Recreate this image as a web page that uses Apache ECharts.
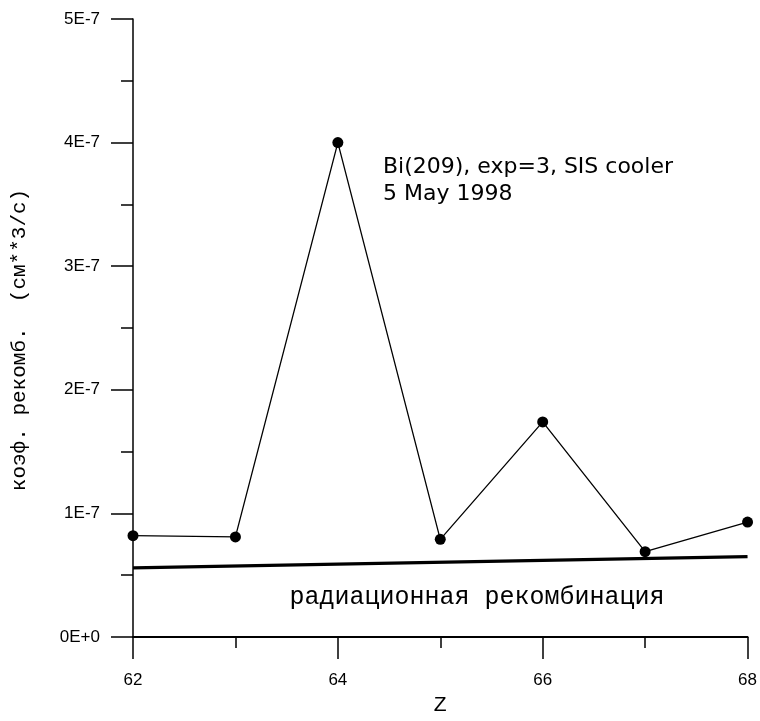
<!DOCTYPE html>
<html>
<head>
<meta charset="utf-8">
<script src="https://cdn.jsdelivr.net/npm/echarts@6/dist/echarts.min.js"></script>
<style>
html,body{margin:0;padding:0;background:#fff;}
#chart{width:760px;height:721px;}
</style>
</head>
<body>
<div id="chart"></div>
<script>
// Data
var zValues = [62, 63, 64, 65, 66, 67, 68];
var recombCoef = [0.82e-7, 0.81e-7, 4.0e-7, 0.79e-7, 1.74e-7, 0.69e-7, 0.93e-7];
var radiativeZ = [62, 68];
var radiativeCoef = [0.56e-7, 0.65e-7];
var yTickLabels = ['0E+0', '1E-7', '2E-7', '3E-7', '4E-7', '5E-7'];
var xTickLabels = ['62', '64', '66', '68'];
var yAxisTitle = 'коэф. рекомб.  (см**3/с)';
var xAxisTitle = 'Z';
var annotationLines = ['Bi(209), exp=3, SIS cooler', '5 May 1998'];
var radiativeLabel = 'радиационная рекомбинация';

var mainData = zValues.map(function (z, i) { return [z, recombCoef[i]]; });
var radData = radiativeZ.map(function (z, i) { return [z, radiativeCoef[i]]; });

var sansFont = '"Liberation Sans", Arial, Helvetica, sans-serif';
var wideSans = '"DejaVu Sans", Verdana, sans-serif';
var monoFont = '"Liberation Mono", "Courier New", monospace';

var chart = echarts.init(document.getElementById('chart'), null, {renderer: 'canvas'});
chart.setOption({
  animation: false,
  backgroundColor: '#ffffff',
  grid: {left: 133, right: 8, top: 19, bottom: 77, containLabel: false},
  xAxis: {
    type: 'value',
    min: 62, max: 68, interval: 2,
    axisLine: {show: true, onZero: false, lineStyle: {color: '#000', width: 2}},
    axisTick: {show: true, length: 22, lineStyle: {color: '#000', width: 1.5}},
    minorTick: {show: true, splitNumber: 2, length: 11, lineStyle: {color: '#000', width: 1.5}},
    splitLine: {show: false},
    minorSplitLine: {show: false},
    axisLabel: {
      margin: 35, color: '#000', fontSize: 17, fontFamily: sansFont,
      formatter: function (v) { return xTickLabels[Math.round((v - 62) / 2)]; }
    },
    name: xAxisTitle, nameLocation: 'middle', nameGap: 58,
    nameTextStyle: {color: '#000', fontSize: 21, fontFamily: sansFont}
  },
  yAxis: {
    type: 'value',
    min: 0, max: 5e-7, interval: 1e-7,
    axisLine: {show: true, onZero: false, lineStyle: {color: '#000', width: 1.5}},
    axisTick: {show: true, length: 22, lineStyle: {color: '#000', width: 1.5}},
    minorTick: {show: true, splitNumber: 2, length: 12, lineStyle: {color: '#000', width: 1.5}},
    splitLine: {show: false},
    minorSplitLine: {show: false},
    axisLabel: {
      margin: 33, color: '#000', fontSize: 17, fontFamily: sansFont,
      formatter: function (v) { return yTickLabels[Math.round(v / 1e-7)]; }
    }
  },
  series: [
    {
      type: 'line',
      data: mainData,
      symbol: 'circle', symbolSize: 11,
      itemStyle: {color: '#000'},
      lineStyle: {color: '#000', width: 1.3},
      clip: false,
      z: 3
    },
    {
      type: 'line',
      data: radData,
      symbol: 'none',
      lineStyle: {color: '#000', width: 3.3},
      clip: false,
      z: 2
    }
  ],
  graphic: [
    {
      type: 'text', left: 383, top: 154,
      style: {text: annotationLines.join('\n'), fill: '#000', font: '22px ' + wideSans, lineHeight: 27}
    },
    {
      type: 'text', x: 477, y: 597,
      style: {text: radiativeLabel, fill: '#000', font: '25px ' + monoFont, textAlign: 'center', textVerticalAlign: 'middle'}
    },
    {
      type: 'text', x: 19, y: 340, rotation: Math.PI / 2,
      style: {text: yAxisTitle, fill: '#000', font: '21px ' + monoFont, textAlign: 'center', textVerticalAlign: 'middle'}
    }
  ]
});
</script>
</body>
</html>
